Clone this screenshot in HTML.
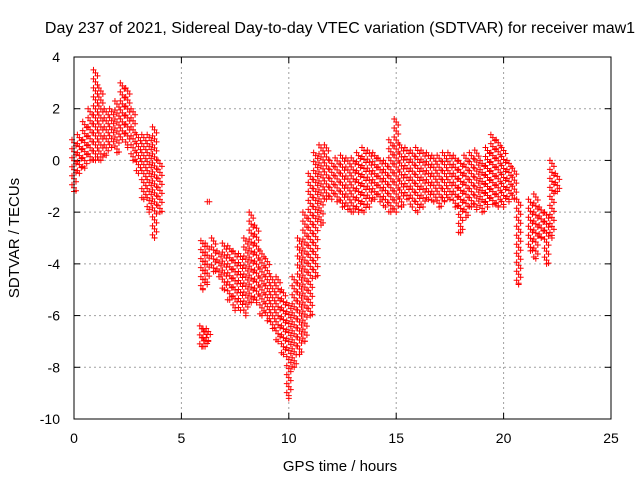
<!DOCTYPE html>
<html><head><meta charset="utf-8"><style>
html,body{margin:0;padding:0;background:#fff;}
svg{display:block;font-family:"Liberation Sans",sans-serif;}
</style></head><body>
<svg id="chart" width="640" height="480">
<text x="340" y="33" text-anchor="middle" font-size="16">Day 237 of 2021, Sidereal Day-to-day VTEC variation (SDTVAR) for receiver maw1</text>
<g id="grid"></g>
<g id="ticks"></g>
<g id="marks"></g>
<rect x="74" y="57" width="537" height="362" fill="none" stroke="#000" stroke-width="1"/>
<text x="340" y="471" text-anchor="middle" font-size="15">GPS time / hours</text>
<text transform="translate(19,238) rotate(-90)" text-anchor="middle" font-size="15">SDTVAR / TECUs</text>
</svg>
<script>
const xTicks=[0,5,10,15,20,25];
const yTicks=[4,2,0,-2,-4,-6,-8,-10];
const times=[0,0.25,0.5,0.75,1,1.25,1.5,1.75,2,2.25,2.5,2.75,3,3.25,3.5,3.75,4,
5.95,6.1,6.25,6.0,6.2,6.3,6.5,6.75,7,7.25,7.5,7.75,8,8.25,8.5,8.75,9,9.25,9.5,9.75,10,10.25,10.5,10.75,11,11.25,11.5,11.75,
12,12.25,12.5,12.75,13,13.25,13.5,13.75,14,14.25,14.5,14.75,15,15.25,15.5,15.75,16,16.25,16.5,16.75,17,17.25,17.5,17.75,
18,18.25,18.5,18.75,19,19.25,19.5,19.75,20,20.25,20.5,20.7,21.25,21.5,21.75,22,22.25,22.5];
const lows=[-1.2,-0.5,-0.3,0,0,0,0.2,0.5,0.3,0.8,0.5,0,-0.5,-1.5,-2,-3,-2,
-7.2,-7.2,-7,-5,-4.8,-1.6,-4.3,-4.5,-5,-5.4,-5.8,-5.8,-6,-5.5,-5.5,-6,-6.2,-6.5,-7,-7.5,-9.2,-8,-7.5,-7,-6,-4.5,-2.5,-1.5,
-1.5,-1.6,-1.8,-1.9,-2,-2,-2,-1.8,-1.5,-1.6,-1.8,-2,-2,-1.8,-1.5,-1.8,-2,-1.8,-1.5,-1.6,-1.8,-1.6,-1.5,-1.8,
-2.8,-2.2,-1.8,-1.9,-2,-1.8,-1.7,-1.8,-1.8,-1.6,-1.5,-4.8,-3.5,-3.8,-3,-4,-3,-1.2];
const highs=[0.8,1,1.5,2,3.5,2.8,2,2,2.3,3,2.8,2,1,1,1,1.3,0,
-6.4,-6.5,-6.5,-3.1,-3.2,-1.6,-3,-3.5,-3.2,-3.3,-3.5,-3.6,-3,-2,-2.5,-3.5,-3.8,-4.5,-4.5,-5,-5.5,-4.5,-3,-2,-0.5,0.3,0.6,0.6,
0,0.1,0.2,0.1,0.1,0.3,0.5,0.4,0.3,0.1,0,0.8,1.6,0.6,0.5,0.4,0.5,0.4,0.3,0.2,0.2,0.3,0.3,0.2,
0,0.2,0.3,0.4,0,0.5,1,0.8,0.5,0,-0.3,-1.5,-1.5,-1.3,-1.8,-2,0,-0.5];
const X=v=>74+v*(611-74)/25;
const Y=v=>57+(4-v)*(419-57)/14;
const NS="http://www.w3.org/2000/svg";
const grid=document.getElementById('grid'),ticks=document.getElementById('ticks'),marks=document.getElementById('marks');
function mk(tag,attrs,parent){const e=document.createElementNS(NS,tag);for(const k in attrs)e.setAttribute(k,attrs[k]);parent.appendChild(e);return e;}
xTicks.forEach(t=>{
  const x=X(t);
  if(t>0&&t<25){const g=mk('line',{x1:x,x2:x,y1:57,y2:419,stroke:'#a0a0a0','stroke-dasharray':'2,3'},grid);
  
  }
  const l=mk('text',{x:x,y:443,'text-anchor':'middle','font-size':'14'},ticks);l.textContent=t;
  
  
  mk('line',{x1:x,x2:x,y1:419,y2:413,stroke:'#000'},ticks);mk('line',{x1:x,x2:x,y1:57,y2:63,stroke:'#000'},ticks);
});
yTicks.forEach(t=>{
  const y=Y(t);
  if(t<4&&t>-10){const g=mk('line',{x1:74,x2:611,y1:y,y2:y,stroke:'#a0a0a0','stroke-dasharray':'2,3'},grid);
  
  }
  const l=mk('text',{x:60,y:y+5,'text-anchor':'end','font-size':'14'},ticks);l.textContent=t;
  
  
  mk('line',{x1:74,x2:80,y1:y,y2:y,stroke:'#000'},ticks);mk('line',{x1:611,x2:605,y1:y,y2:y,stroke:'#000'},ticks);
});
let d='';
for(let i=0;i<times.length;i++){
  const x=X(times[i]),y1=Y(highs[i]),y2=Y(lows[i]);
  let k=0;
  for(let y=y1;y<=y2+0.01;y+=3){
    const xo=x+((k%3)-1)*2;k++;
    d+=`M${xo-3},${y}h6M${xo},${y-3}v6`;
  }
  d+=`M${x-3},${y2}h6M${x},${y2-3}v6`;
}
const p=mk('path',{d:d,stroke:'#ff0000','stroke-width':'1',fill:'none'},marks);


</script>
</body></html>
